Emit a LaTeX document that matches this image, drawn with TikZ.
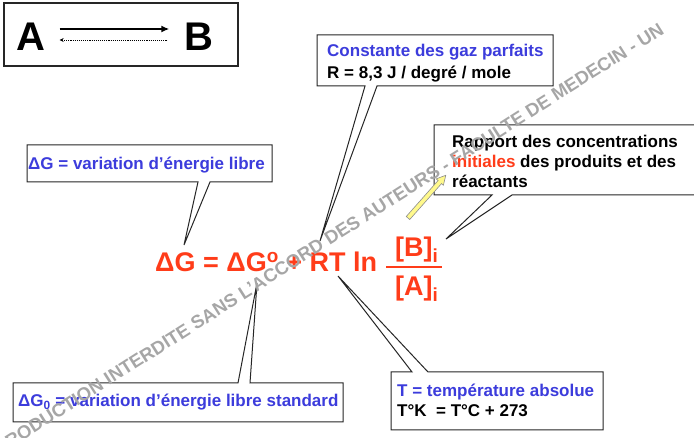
\documentclass[tikz,border=0pt]{standalone}
\usepackage{fontspec}
\setmainfont{Liberation Sans}
\usetikzlibrary{arrows.meta}
\definecolor{bleu}{RGB}{60,60,220}
\definecolor{rouge}{RGB}{255,60,25}
\tikzset{
  cadre/.style={draw=black!85, line width=1pt, fill=white},
  txt/.style={anchor=base west, inner sep=0pt, font=\bfseries\fontsize{17}{17}\selectfont},
  eqn/.style={anchor=base west, inner sep=0pt, text=rouge, font=\bfseries\fontsize{27}{27}\selectfont},
  lettre/.style={inner sep=0pt, font=\bfseries\fontsize{40}{40}\selectfont}
}
\begin{document}
\begin{tikzpicture}[x=1pt,y=-1pt]
                \useasboundingbox (0,0) rectangle (694,438);
                \clip (0,0) rectangle (694,438);
                % 反应 A -> B
                \draw[cadre, line width=1.2pt] (4,3) rectangle (238,66);
                \node[lettre] (A) at (31,37) {A};
                \node[lettre] (B) at (199,37) {B};
                \draw[-{Latex[length=8pt,width=7pt]}, line width=1.8pt, shorten <=14pt, shorten >=15pt] ([yshift=8pt]A.east) -- ([yshift=8pt]B.west);
                \draw[-{Stealth[length=4pt,width=4pt]}, densely dotted, line width=0.9pt, shorten <=17pt, shorten >=14pt] ([yshift=-3pt]B.west) -- ([yshift=-3pt]A.east);
                % 标注框的尖端
                \coordinate (pG) at (184,245);
                \coordinate (pR) at (320,241);
                \coordinate (pC) at (446,239);
                \coordinate (pG0) at (257,283);
                \coordinate (pT) at (338,276);
                % 标注框 ΔG
                \draw[cadre] (27,145) -- (272,145) -- (272,182) -- (210,182) -- (pG) -- (198,182) -- (27,182) -- cycle;
                \node[txt, text=bleu] (tG) at (28,170) {ΔG = variation d’énergie libre};
                % 标注框 R
                \draw[cadre] (317,35) -- (553,35) -- (553,86) -- (377,86) -- (pR) -- (365,86) -- (317,86) -- cycle;
                \node[txt, text=bleu] (tR1) at (327,57) {Constante des gaz parfaits};
                \node[txt] (tR2) at (327,79) {R = 8,3 J / degré / mole};
                % 标注框 浓度比
                \draw[cadre] (434,125) -- (700,125) -- (700,195) -- (512,195) -- (pC) -- (492,195) -- (434,195) -- cycle;
                \node[txt] (tC1) at (452,148) {Rapport des concentrations};
                \node[txt] (tC2) at (452,168) {\textcolor{rouge}{initiales} des produits et des};
                \node[txt] (tC3) at (452,188) {réactants};
                % 标注框 ΔG0
                \draw[cadre] (13,383) -- (238,383) -- (pG0) -- (250,383) -- (343,383) -- (343,422) -- (13,422) -- cycle;
                \node[txt, text=bleu] (tG0) at (18,407) {ΔG\textsubscript{0} = variation d’énergie libre standard};
                % 标注框 T
                \draw[cadre] (391,372) -- (412,372) -- (pT) -- (428,372) -- (603,372) -- (603,430) -- (391,430) -- cycle;
                \node[txt, text=bleu] (tT1) at (397,397) {T = température absolue};
                \node[txt] (tT2) at (397,417) {T°K\ \ = T°C + 273};
                % 方程
                \node[eqn] (eq) at (155,272) {ΔG = ΔG\textsuperscript{o} + RT ln};
                \node[eqn] (num) at (395,257) {[B]\textsubscript{i}};
                \node[eqn] (den) at (395,296) {[A]\textsubscript{i}};
                \draw[rouge, line width=1.4pt] (386,267) -- (442,267);
                % 黄色箭头
                \begin{scope}[shift={(408,218)}, rotate=48.5]
                  \draw[draw=black!45, fill=yellow!45, line width=0.6pt] (0,-2.3) -- (48,-2.3) -- (48,-4.8) -- (57,0) -- (48,4.8) -- (48,2.3) -- (0,2.3) -- cycle;
                \end{scope}
                % 水印
                \node[rotate=32.4, anchor=base west, inner sep=0pt, text=black!35, font=\bfseries\fontsize{18.5}{18.5}\selectfont] (wm) at (-22,469) {REPRODUCTION INTERDITE SANS L’ACCORD DES AUTEURS - FACULTE DE MEDECIN - UN};
            \end{tikzpicture}
\end{document}
